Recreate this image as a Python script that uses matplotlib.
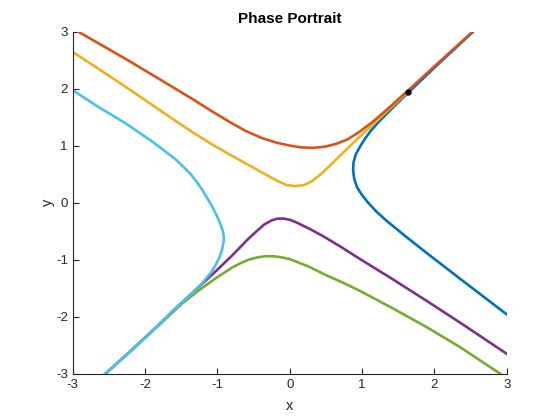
import matplotlib
matplotlib.use('Agg')
import matplotlib.pyplot as plt

# trajectories (x, y pairs)
blue_x = [2.53, 2.07, 1.63, 1.42, 1.24, 1.12, 1.05, 0.97, 0.91, 0.88, 0.875, 0.89, 0.93, 1.00,
          1.09, 1.20, 1.33, 1.61, 1.89, 2.35, 3.00]
blue_y = [2.99, 2.45, 1.92, 1.66, 1.43, 1.26, 1.14, 0.98, 0.84, 0.70, 0.57, 0.42, 0.27, 0.13,
          -0.01, -0.16, -0.31, -0.60, -0.88, -1.33, -1.96]

orange_x = [-2.93, -2.60, -2.27, -1.90, -1.60, -1.35, -1.10, -0.84, -0.60, -0.38, -0.18, 0.00,
            0.15, 0.31, 0.48, 0.64, 0.80, 0.95, 1.14, 1.35, 1.63, 2.07, 2.53]
orange_y = [3.00, 2.76, 2.52, 2.24, 2.01, 1.82, 1.62, 1.42, 1.25, 1.13, 1.05, 1.00,
            0.97, 0.96, 0.98, 1.03, 1.11, 1.23, 1.41, 1.64, 1.96, 2.47, 3.00]

yellow_x = [-3.00, -2.65, -2.27, -1.90, -1.60, -1.35, -1.10, -0.84, -0.60, -0.40, -0.20, -0.05,
            0.08, 0.20, 0.30, 0.42, 0.54, 0.70, 0.87, 1.03, 1.19, 1.40, 1.63]
yellow_y = [2.64, 2.35, 2.03, 1.71, 1.45, 1.24, 1.04, 0.85, 0.68, 0.54, 0.40, 0.31,
            0.29, 0.31, 0.37, 0.49, 0.63, 0.83, 1.04, 1.23, 1.42, 1.67, 1.94]

purple_x = [-2.55, -2.20, -1.82, -1.50, -1.26, -1.03, -0.80, -0.57, -0.45, -0.35, -0.25, -0.17,
            -0.08, 0.00, 0.08, 0.26, 0.45, 0.70, 0.96, 1.42, 1.89, 2.35, 3.00]
purple_y = [-3.00, -2.60, -2.15, -1.76, -1.48, -1.21, -0.93, -0.63, -0.49, -0.38, -0.31, -0.28,
            -0.28, -0.30, -0.34, -0.45, -0.58, -0.77, -0.98, -1.34, -1.72, -2.10, -2.65]

green_x = [-2.55, -2.20, -1.82, -1.50, -1.26, -1.03, -0.80, -0.68, -0.57, -0.45, -0.34, -0.22,
           -0.11, 0.00, 0.08, 0.26, 0.50, 0.73, 0.96, 1.42, 1.89, 2.35, 2.91]
green_y = [-3.00, -2.60, -2.16, -1.78, -1.54, -1.33, -1.14, -1.06, -1.00, -0.96, -0.94, -0.94,
           -0.96, -0.99, -1.03, -1.12, -1.27, -1.40, -1.54, -1.85, -2.18, -2.53, -3.00]

lblue_x = [-3.00, -2.65, -2.27, -1.90, -1.58, -1.48, -1.37, -1.26, -1.17, -1.09, -1.02, -0.96,
           -0.925, -0.91, -0.92, -0.94, -0.97, -1.02, -1.08, -1.19, -1.31, -1.45, -1.59, -1.82,
           -2.04, -2.55]
lblue_y = [1.97, 1.68, 1.39, 1.07, 0.76, 0.64, 0.50, 0.32, 0.14, -0.03, -0.20, -0.37,
           -0.50, -0.62, -0.72, -0.84, -0.95, -1.08, -1.21, -1.38, -1.54, -1.70, -1.86, -2.15,
           -2.42, -3.00]

dot_x = [1.63]
dot_y = [1.94]

plt.rcParams['font.family'] = ['Liberation Sans', 'DejaVu Sans']
plt.rcParams['axes.unicode_minus'] = False

fig = plt.figure(figsize=(5.6, 4.2), dpi=100)
ax = fig.add_axes([0.13, 0.11, 0.775, 0.815])

lw = 1.9
ax.plot(blue_x, blue_y, color='#0072BD', lw=lw)
ax.plot(yellow_x, yellow_y, color='#EDB120', lw=lw)
ax.plot(orange_x, orange_y, color='#D95319', lw=lw)
ax.plot(purple_x, purple_y, color='#7E2F8E', lw=lw)
ax.plot(green_x, green_y, color='#77AC30', lw=lw)
ax.plot(lblue_x, lblue_y, color='#4DBEEE', lw=lw)
ax.plot(dot_x, dot_y, 'o', color='k', ms=3.5)

ax.set_xlim(-3, 3)
ax.set_ylim(-3, 3)
ax.set_xticks([-3, -2, -1, 0, 1, 2, 3])
ax.set_yticks([-3, -2, -1, 0, 1, 2, 3])

dark = '#262626'
for side in ['top', 'right']:
    ax.spines[side].set_visible(False)
for side in ['left', 'bottom']:
    ax.spines[side].set_color(dark)
    ax.spines[side].set_linewidth(0.8)
ax.tick_params(direction='in', length=4, width=0.8, colors=dark, labelsize=9.5)

ax.set_xlabel('x', fontsize=10.5, color=dark, labelpad=6)
ax.set_ylabel('y', fontsize=10.5, color=dark, labelpad=1)
ax.set_title('Phase Portrait', fontsize=11, fontweight='bold', color='k')

fig.savefig('out.png', dpi=100)
